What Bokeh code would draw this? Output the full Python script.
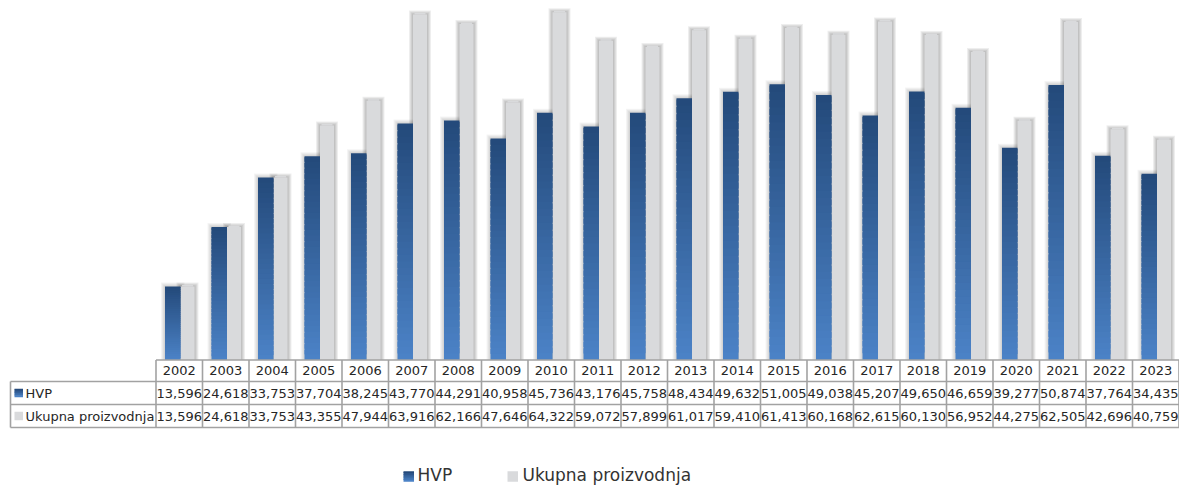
import numpy as np
from bokeh.plotting import figure
from bokeh.models import Range1d, ColumnDataSource
from bokeh.core.properties import value
from bokeh.embed import file_html
from bokeh.resources import INLINE

# ---------------- data ----------------
years = ["2002", "2003", "2004", "2005", "2006", "2007", "2008", "2009", "2010", "2011", "2012",
         "2013", "2014", "2015", "2016", "2017", "2018", "2019", "2020", "2021", "2022", "2023"]
hvp = [13596, 24618, 33753, 37704, 38245, 43770, 44291, 40958, 45736, 43176, 45758,
       48434, 49632, 51005, 49038, 45207, 49650, 46659, 39277, 50874, 37764, 34435]
ukupno = [13596, 24618, 33753, 43355, 47944, 63916, 62166, 47646, 64322, 59072, 57899,
          61017, 59410, 61413, 60168, 62615, 60130, 56952, 44275, 62505, 42696, 40759]
series_names = ["HVP", "Ukupna proizvodnja"]

# ---------------- layout (picture pixels) ----------------
W, H = 1179, 485
COL = 46.5          # px per year column
X0 = 155.5          # x of first year column
BASE = 359.5        # y of baseline
S = 0.005406        # px per data unit


def cx(px):
    return (px - X0) / COL


def cy(py):
    return (BASE - py) / S


def hex2rgb(h):
    h = h.lstrip("#")
    return [int(h[i:i + 2], 16) for i in (0, 2, 4)]


def mix(c1, c2, t):
    a, b = hex2rgb(c1), hex2rgb(c2)
    return "#%02x%02x%02x" % tuple(int(round(a[k] + (b[k] - a[k]) * t)) for k in range(3))


BLUE_BOT = "#4b82c6"
BLUE_TOP = "#244a7b"
GRAY = "#d9dadc"
FONT = value("DejaVu Sans")
TXT = "#262626"
LINE = "#a2a2a2"

p = figure(width=W, height=H, output_backend="svg", toolbar_location=None,
           x_range=Range1d(cx(0), cx(W)), y_range=Range1d(cy(H), cy(0)),
           x_axis_type=None, y_axis_type=None,
           min_border=0, min_border_left=0, min_border_right=0,
           min_border_top=0, min_border_bottom=0, outline_line_color=None)
p.grid.visible = False
p.background_fill_color = "white"
p.border_fill_color = "white"

n = len(years)
idx = np.arange(n)
bl, br = 9.0 / COL, 24.5 / COL      # blue bar offsets within column
gl, gr = 24.5 / COL, 38.5 / COL     # gray bar offsets within column

# ---------------- shadows ----------------
for d in (1, 2, 3, 4):
    dx = d / COL
    dy = d / S
    p.quad(left=idx + bl - dx, right=idx + br + dx, bottom=0,
           top=np.array(hvp) + dy, fill_color="black", fill_alpha=0.045, line_color=None)
    p.quad(left=idx + gl - dx, right=idx + gr + dx, bottom=0,
           top=np.array(ukupno) + dy, fill_color="black", fill_alpha=0.065, line_color=None)

# ---------------- gray bars ----------------
p.quad(left=idx + gl, right=idx + gr, bottom=0, top=ukupno,
       fill_color=GRAY, line_color=None)
# soft rounded top of gray bars
p.quad(left=idx + gl + 1.5 / COL, right=idx + gr - 1.5 / COL,
       bottom=ukupno, top=np.array(ukupno) + 1.5 / S, fill_color=GRAY, line_color=None)

# ---------------- blue gradient bars ----------------
NSEG = 36
L, R, B, T, C = [], [], [], [], []
for i, v in enumerate(hvp):
    for k in range(NSEG):
        L.append(i + bl)
        R.append(i + br)
        B.append(v * k / NSEG)
        T.append(min(v, v * (k + 1.8) / NSEG))
        C.append(mix(BLUE_BOT, BLUE_TOP, k / (NSEG - 1)))
p.quad(left="l", right="r", bottom="b", top="t", fill_color="c", line_color="c",
       line_width=0.0, line_alpha=0.0,
       source=ColumnDataSource(dict(l=L, r=R, b=B, t=T, c=C)))

# ---------------- data table ----------------
row_lines = [359.5, 381, 404, 427]
x0s, y0s, x1s, y1s = [], [], [], []
x0s.append(0); x1s.append(n + 1); y0s.append(cy(row_lines[0])); y1s.append(cy(row_lines[0]))
for py in row_lines[1:]:
    x0s.append(cx(10)); x1s.append(n + 1); y0s.append(cy(py)); y1s.append(cy(py))
for c in range(n + 1):
    x0s.append(c); x1s.append(c); y0s.append(cy(row_lines[0])); y1s.append(cy(row_lines[-1]))
x0s.append(cx(10)); x1s.append(cx(10)); y0s.append(cy(row_lines[1])); y1s.append(cy(row_lines[-1]))
p.segment(x0=x0s, y0=y0s, x1=x1s, y1=y1s, line_color=LINE, line_width=1.6)

row_mid = [(row_lines[j] + row_lines[j + 1]) / 2 for j in range(3)]
p.text(x=idx + 0.5, y=[cy(row_mid[0])] * n, text=years, text_font=FONT,
       text_font_size="13px", text_color=TXT, text_align="center", text_baseline="middle")
p.text(x=idx + 0.5, y=[cy(row_mid[1])] * n, text=[f"{v:,}" for v in hvp], text_font=FONT,
       text_font_size="13px", text_color=TXT, text_align="center", text_baseline="middle")
p.text(x=idx + 0.5, y=[cy(row_mid[2])] * n, text=[f"{v:,}" for v in ukupno], text_font=FONT,
       text_font_size="13px", text_color=TXT, text_align="center", text_baseline="middle")

p.text(x=[cx(25), cx(25)], y=[cy(row_mid[1]), cy(row_mid[2])], text=series_names,
       text_font=FONT, text_font_size="13px", text_color=TXT,
       text_align="left", text_baseline="middle")


def swatch(px0, py_mid, size, gradient):
    half = size / 2
    if gradient:
        m = 6
        for k in range(m):
            p.quad(left=cx(px0), right=cx(px0 + size),
                   bottom=cy(py_mid + half - size * k / m),
                   top=cy(py_mid + half - size * min(m, k + 1.5) / m),
                   fill_color=mix(BLUE_BOT, BLUE_TOP, k / (m - 1)), line_color=None)
    else:
        p.quad(left=cx(px0), right=cx(px0 + size), bottom=cy(py_mid + half),
               top=cy(py_mid - half), fill_color=GRAY, line_color=None)


swatch(14, row_mid[1], 8.5, True)
swatch(14, row_mid[2], 8.5, False)

# ---------------- legend ----------------
LEG_Y = 474.5
swatch(403, LEG_Y + 1.5, 10.5, True)
swatch(507, LEG_Y + 1.5, 10.5, False)
p.text(x=[cx(417), cx(522)], y=[cy(LEG_Y), cy(LEG_Y)], text=series_names,
       text_font=FONT, text_font_size="17px", text_color="#333333",
       text_align="left", text_baseline="middle")

open("out.html", "w").write(file_html(p, INLINE))
